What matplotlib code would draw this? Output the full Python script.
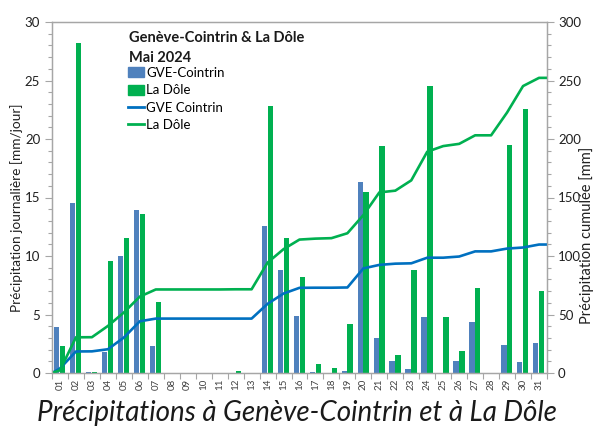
import numpy as np
import matplotlib
matplotlib.use("Agg")
import matplotlib.pyplot as plt
from matplotlib.ticker import MultipleLocator, FixedLocator
from matplotlib.patches import Patch
from matplotlib.lines import Line2D

plt.rcParams['font.family'] = ['Lato', 'DejaVu Sans']

# Daily precipitation, May 2024 [mm/day]
days = [f"{d:02d}" for d in range(1, 32)]
gve_daily = [3.9, 14.5, 0.1, 1.8, 10.0, 13.9, 2.3, 0.0, 0.0, 0.0, 0.0, 0.0, 0.0,
             12.6, 8.8, 4.9, 0.1, 0.0, 0.2, 16.3, 3.0, 1.05, 0.3, 4.8, 0.0,
             1.0, 4.4, 0.0, 2.4, 0.9, 2.55]
dole_daily = [2.3, 28.2, 0.1, 9.6, 11.5, 13.6, 6.1, 0.0, 0.0, 0.0, 0.0, 0.15, 0.0,
              22.8, 11.5, 8.2, 0.8, 0.4, 4.2, 15.5, 19.4, 1.5, 8.8, 24.5, 4.8,
              1.9, 7.3, 0.0, 19.5, 22.6, 7.0]

gve_cum = np.cumsum(gve_daily)
dole_cum = np.cumsum(dole_daily)

c_gve_bar = '#4f81bd'
c_dole_bar = '#00b050'
c_gve_line = '#0070c0'
c_dole_line = '#00b050'
c_axis = '#a6a6a6'

fig = plt.figure(figsize=(5.94, 4.30), dpi=100)
ax = fig.add_axes([52 / 594, 1 - 373 / 430, 495 / 594, 351 / 430])
ax2 = ax.twinx()

x = np.arange(1, 32)
w = 0.33
ax.bar(x - 0.2, gve_daily, width=w, color=c_gve_bar, zorder=2)
ax.bar(x + 0.17, dole_daily, width=w, color=c_dole_bar, zorder=2)

# cumulative curves run from the left edge (0 mm) to the right edge
x0, x1 = 0.5, 31.5
lx = np.concatenate([[x0], x, [x1]])
ax2.plot(lx, np.concatenate([[0], gve_cum, [gve_cum[-1]]]), color=c_gve_line, lw=1.9)
ax2.plot(lx, np.concatenate([[0], dole_cum, [dole_cum[-1]]]), color=c_dole_line, lw=1.9)

ax.set_xlim(x0, x1)
ax.set_ylim(0, 30)
ax2.set_ylim(0, 300)

ax.set_xticks(x)
ax.set_xticklabels(days, rotation=90, fontsize=7, color='#404040')
ax.xaxis.set_minor_locator(FixedLocator(np.arange(0.5, 32, 1)))
ax.tick_params(axis='x', which='major', length=0, pad=4)
ax.tick_params(axis='x', which='minor', length=4, color=c_axis, width=0.8)

ax.yaxis.set_major_locator(MultipleLocator(5))
ax.yaxis.set_minor_locator(MultipleLocator(1))
ax.tick_params(axis='y', which='major', length=5, color=c_axis, labelsize=9.5, labelcolor='#202020', width=0.8)
ax.tick_params(axis='y', which='minor', length=3, color=c_axis, width=0.8)

ax2.yaxis.set_major_locator(MultipleLocator(50))
ax2.yaxis.set_minor_locator(MultipleLocator(10))
ax2.tick_params(axis='y', which='major', length=5, color=c_axis, labelsize=9.5, labelcolor='#202020', width=0.8, pad=3)
ax2.tick_params(axis='y', which='minor', length=3, color=c_axis, width=0.8)

for a in (ax, ax2):
    for s in a.spines.values():
        s.set_color(c_axis)
        s.set_linewidth(0.9)

# axis titles
fig.text(17 / 594, 1 - 208 / 430, "Précipitation journalière [mm/jour]", fontsize=9.8,
         color='#202020', rotation=90, ha='center', va='center')
fig.text(587 / 594, 1 - 235 / 430, "Précipitation cumulée [mm]", fontsize=10.5,
         color='#202020', rotation=90, ha='center', va='center')

# legend block with bold heading
fig.text(129 / 594, 1 - 38 / 430, "Genève-Cointrin & La Dôle", fontsize=10.5,
         fontweight='bold', va='center', ha='left', color='#1a1a1a')
fig.text(129 / 594, 1 - 58 / 430, "Mai 2024", fontsize=10.5,
         fontweight='bold', va='center', ha='left', color='#1a1a1a')
handles = [Patch(color=c_gve_bar), Patch(color=c_dole_bar),
           Line2D([], [], color=c_gve_line, lw=2), Line2D([], [], color=c_dole_line, lw=2)]
labels = ["GVE-Cointrin", "La Dôle", "GVE Cointrin", "La Dôle"]
leg = fig.legend(handles, labels, loc='upper left', bbox_to_anchor=(128 / 594, 1 - 67 / 430),
                 frameon=False, fontsize=9.5, handlelength=1.2, handleheight=0.8,
                 handletextpad=0.2, labelspacing=0.4, borderpad=0, borderaxespad=0)

fig.text(0.5, 1 - 413 / 430, "Précipitations à Genève-Cointrin et à La Dôle",
         fontsize=20, style='italic', ha='center', va='center', color='#1a1a1a')

fig.savefig("out.png", dpi=100)
